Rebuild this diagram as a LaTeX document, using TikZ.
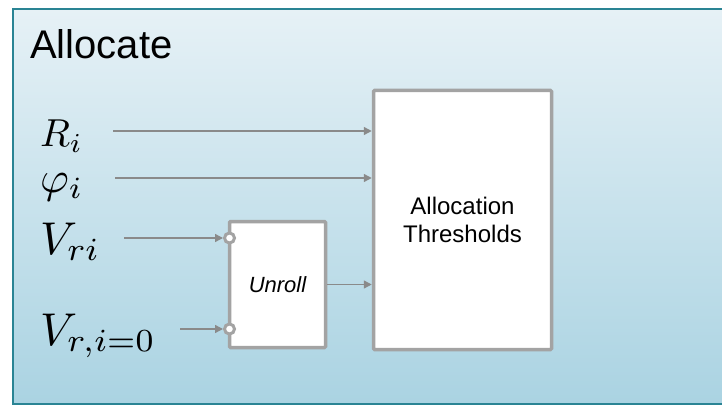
\documentclass[tikz,border=0pt]{standalone}
\usepackage{fontspec}
\setmainfont{Liberation Sans}
\usetikzlibrary{arrows.meta,calc}
\definecolor{bordc}{HTML}{2A8494}
\definecolor{topc}{HTML}{E6F1F6}
\definecolor{botc}{HTML}{AAD3E2}
\definecolor{boxg}{HTML}{A3A3A3}
\definecolor{arrg}{HTML}{8A8A8A}
\tikzset{
  blockbox/.style={draw=boxg, line width=3.5pt, fill=white, inner sep=0pt, rounded corners=1pt},
  sig/.style={draw=arrg, line width=1.4pt, -{Triangle[length=8pt,width=8pt]}},
  port/.style={circle, draw=boxg, line width=3pt, fill=white, minimum size=10pt, inner sep=0pt},
  mlabel/.style={anchor=base west, inner sep=0pt, text=black}
}
\begin{document}
\begin{tikzpicture}[x=1pt,y=-1pt]
\useasboundingbox (0,0) rectangle (722,406);
% outer frame
\shade[top color=topc, bottom color=botc] (13,9) rectangle (740,404);
\draw[bordc, line width=2pt] (740,9) -- (13,9) -- (13,404) -- (740,404);
\node[anchor=base west, inner sep=0pt, font=\fontsize{40}{40}\selectfont] (title) at (30,59) {Allocate};
% blocks
\node[blockbox, minimum width=178pt, minimum height=259pt, align=center,
      font=\fontsize{24}{28}\selectfont] (alloc) at (462.5,220) {Allocation\\Thresholds};
\node[blockbox, minimum width=96pt, minimum height=126pt,
      font=\fontsize{22}{22}\selectfont\itshape] (unroll) at (277.5,284.5) {Unroll};
% ports
\node[port] (p1) at (229.5,238) {};
\node[port] (p2) at (229.5,329) {};
% labels
\node[mlabel] (lR) at (40,147) {\scalebox{3.9}{$R_i$}};
\node[mlabel] (lphi) at (40,192) {\scalebox{4.4}{$\varphi_i$}};
\node[mlabel] (lV) at (40,254) {\scalebox{4.6}{$V_{ri}$}};
\node[mlabel] (lV0) at (40,345) {\scalebox{4.6}{$V_{r,i=0}$}};
% signal start points
\coordinate (sR) at (113,131);
\coordinate (sphi) at (115,178);
\coordinate (sV) at (124,238);
\coordinate (sV0) at (180,329);
% connectors
\draw[sig] (sR) -- (sR -| alloc.west);
\draw[sig] (sphi) -- (sphi -| alloc.west);
\draw[sig] (sV) -- (p1.west);
\draw[sig] (sV0) -- (p2.west);
\draw[sig] (unroll.east) -- (unroll.east -| alloc.west);
\end{tikzpicture}
\end{document}
